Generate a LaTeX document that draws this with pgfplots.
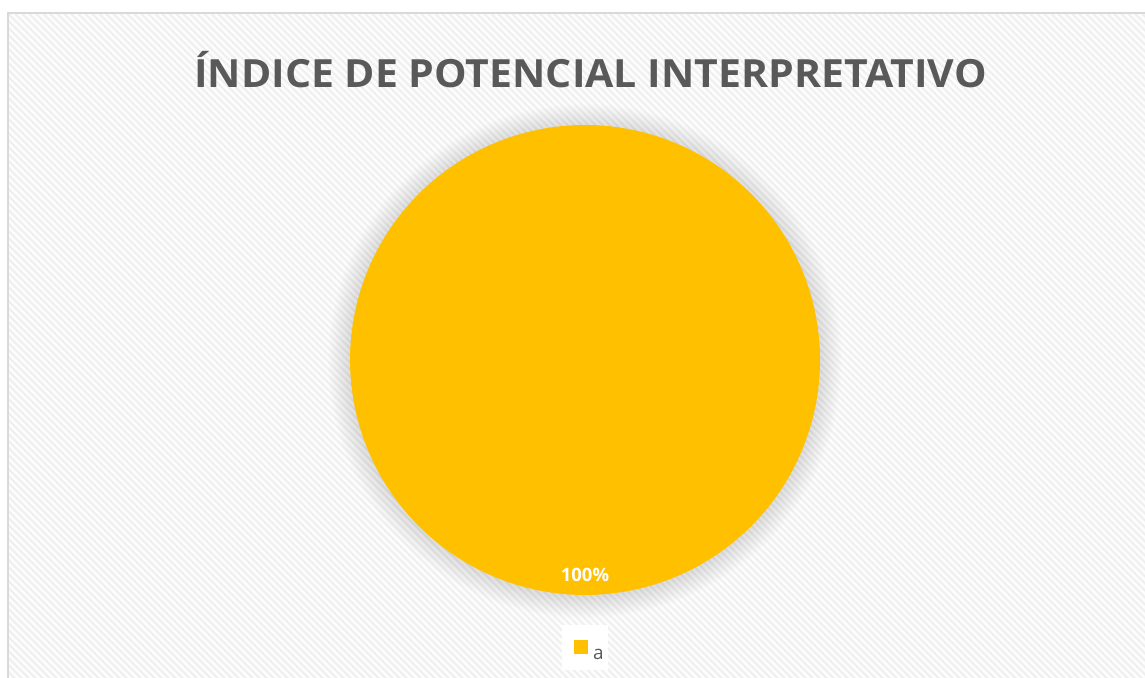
\documentclass[border=0pt]{standalone}
\usepackage{pgfplots}
\pgfplotsset{compat=1.18}
\usepackage{fontspec}
\setmainfont{Open Sans}
\definecolor{pieyellow}{HTML}{FFC000}
\definecolor{titlegray}{HTML}{595959}
\definecolor{bgbase}{HTML}{EFEFEF}
\definecolor{bordergray}{HTML}{D9D9D9}
\begin{document}
\begin{tikzpicture}[x=1bp,y=1bp]
\useasboundingbox (0,0) rectangle (1145,678);
\fill[white] (0,0) rectangle (1145,678);
% chart area background with diagonal stripes
\begin{scope}
\clip (8,0) rectangle (1145,665);
\fill[bgbase] (8,0) rectangle (1145,665);
\foreach \i in {0,...,265} {
  \draw[white!70!bgbase!40!white, line width=2.6] ({-690+7*\i},680) -- ++(700,-700);
}
\end{scope}
\draw[bordergray, line width=1.5] (8,-5) -- (8,665) -- (1150,665);
% soft shadow around pie
\foreach \r in {236,237.5,...,258} {
  \fill[black, opacity=0.006] (585,317) circle (\r);
}
\begin{axis}[at={(0,0)}, anchor=south west, width=1145bp, height=678bp,
  scale only axis, xmin=0, xmax=1145, ymin=0, ymax=678, hide axis, clip=false]
% single slice: a = 100%
\addplot[fill=pieyellow, draw=none, domain=90:450, samples=240]
  ({585+235*cos(x)},{318+235*sin(x)}) -- cycle;
\addplot[only marks, mark=none, point meta=explicit symbolic,
  nodes near coords, nodes near coords align={center},
  every node near coord/.append style={font=\bfseries\fontsize{18.5}{22}\selectfont, text=white, anchor=center}]
  coordinates {(585,103) [100\%]};
\end{axis}
% title
\node[font=\bfseries\fontsize{39}{46}\selectfont, text=titlegray, anchor=base, xscale=1.055, inner sep=0] at (590.5,590) {ÍNDICE DE POTENCIAL INTERPRETATIVO};
% legend
\fill[white!98!bgbase] (562,8) rectangle (608,53);
\fill[pieyellow] (574,24) rectangle (588,38);
\node[font=\fontsize{19}{23}\selectfont, text=titlegray, anchor=base west, inner sep=0] at (593,18.5) {a};
\end{tikzpicture}
\end{document}
